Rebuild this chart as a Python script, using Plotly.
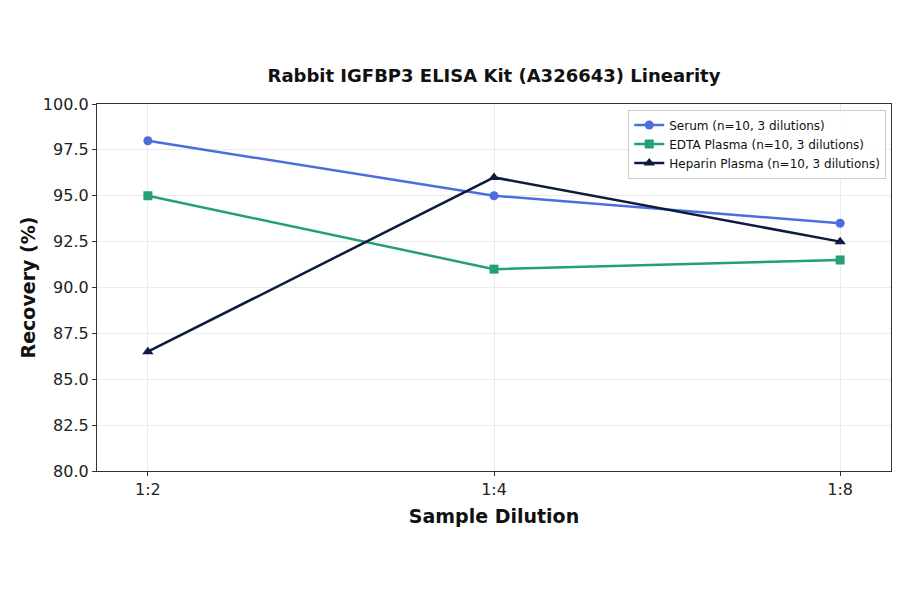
import plotly.graph_objects as go

# recovery data
dilutions = ["1:2", "1:4", "1:8"]
serum = [98.0, 95.0, 93.5]
edta = [95.0, 91.0, 91.5]
heparin = [86.5, 96.0, 92.5]

names = ["Serum (n=10, 3 dilutions)", "EDTA Plasma (n=10, 3 dilutions)",
         "Heparin Plasma (n=10, 3 dilutions)"]
colors = ["#4a6fdc", "#24a077", "#0f1a40"]
symbols = ["circle", "square", "triangle-up"]
sizes = [9, 9, 10]

fig = go.Figure()
for vals, name, col, sym, sz in zip([serum, edta, heparin], names, colors, symbols, sizes):
    fig.add_trace(go.Scatter(
        x=[0, 1, 2], y=vals, name=name, mode="lines+markers",
        line=dict(color=col, width=2.5),
        marker=dict(symbol=sym, size=sz, color=col),
    ))

axis_common = dict(
    showline=True, linecolor="#333333", linewidth=1.3, mirror=True,
    ticks="outside", ticklen=4, tickcolor="#333333",
    showgrid=True, gridcolor="#ebebeb", gridwidth=1,
    zeroline=False, tickfont=dict(size=16, color="#222222"),
    automargin=False,
)

# page body has an 8px margin, so margins are offset by that
fig.update_layout(
    width=900, height=594,
    paper_bgcolor="white", plot_bgcolor="white",
    font=dict(family="DejaVu Sans", color="#111111"),
    margin=dict(l=89, r=17, t=96, b=131),
    title=dict(text="<b>Rabbit IGFBP3 ELISA Kit (A326643) Linearity</b>",
               xref="paper", x=0.5, xanchor="center", y=0.8855, yanchor="middle",
               font=dict(size=18)),
    xaxis=dict(axis_common, tickvals=[0, 1, 2], ticktext=dilutions,
               range=[-0.147, 2.147],
               title=dict(text="<b>Sample Dilution</b>", font=dict(size=19), standoff=11)),
    yaxis=dict(axis_common, range=[80, 100], tickvals=[80, 82.5, 85, 87.5, 90, 92.5, 95, 97.5, 100],
               tickformat=".1f",
               title=dict(text="<b>Recovery (%)</b>", font=dict(size=19), standoff=2)),
    legend=dict(x=0.994, y=0.985, xanchor="right", yanchor="top",
                bgcolor="rgba(255,255,255,0.9)", bordercolor="#cccccc", borderwidth=1,
                font=dict(size=12), tracegroupgap=0, itemwidth=30),
    showlegend=True,
)

fig.write_html("out.html")
